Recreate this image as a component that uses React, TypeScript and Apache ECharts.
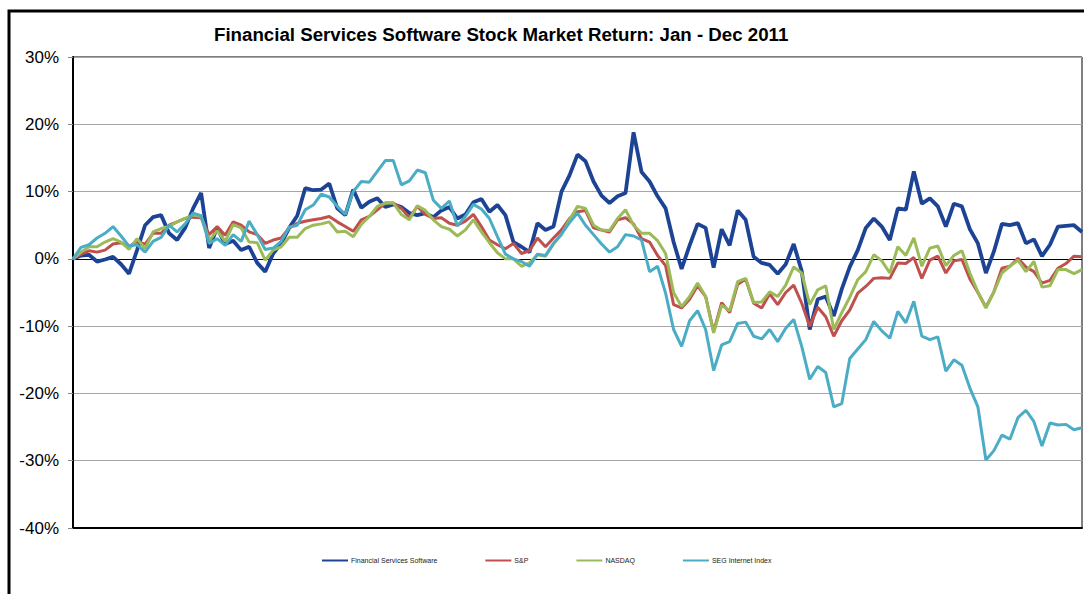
import React, { useEffect, useRef } from "react";
import * as echarts from "echarts";

const TITLE = "Financial Services Software Stock Market Return: Jan - Dec 2011";
const SERIES_NAMES = ["Financial Services Software", "S&P", "NASDAQ", "SEG Internet Index"];
const SERIES_COLORS = ["#1d4494", "#c0504d", "#9bbb59", "#4bacc6"];
const Y_MIN = -40;
const Y_MAX = 30;
const Y_STEP = 10;

// Cumulative return (%) sampled roughly every two trading days, Jan - Dec 2011
const FSS = [
  0.0, 0.5, 0.6, -0.4, -0.1, 0.3, -0.8, -2.2, 1.3, 5.0,
  6.2, 6.5, 3.8, 2.8, 4.6, 7.5, 9.8, 1.6, 4.6, 2.2,
  2.7, 1.3, 1.8, -0.6, -1.9, 0.8, 2.3, 4.6, 6.4, 10.5,
  10.2, 10.3, 11.2, 7.5, 6.5, 10.3, 7.6, 8.5, 9.0, 7.7,
  8.1, 7.7, 6.8, 6.5, 6.8, 6.2, 7.2, 7.7, 6.0, 6.6,
  8.4, 8.9, 7.0, 8.0, 6.5, 2.5, 1.8, 1.0, 5.3, 4.3,
  4.8, 10.0, 12.4, 15.5, 14.5, 11.5, 9.4, 8.3, 9.3, 9.8,
  18.8, 12.9, 11.5, 9.3, 7.5, 2.5, -1.5, 2.0, 5.2, 4.6,
  -1.3, 4.4, 2.0, 7.2, 5.8, 0.3, -0.6, -0.9, -2.2, -0.8,
  2.2, -1.8, -10.5, -6.0, -5.6, -8.5, -4.5, -1.2, 1.3, 4.6,
  6.0, 4.8, 2.8, 7.5, 7.3, 13.0, 8.2, 9.0, 7.8, 4.8,
  8.2, 7.8, 4.4, 2.3, -2.1, 1.1, 5.2, 5.0, 5.3, 2.3,
  2.9, 0.4, 2.1, 4.8, 4.9, 5.0, 4.0,
];

const SP = [
  0.0, 0.7, 1.2, 1.0, 1.3, 2.2, 2.4, 1.8, 2.6, 2.2,
  3.8, 3.8, 5.0, 5.5, 6.0, 6.2, 6.1, 3.6, 4.8, 3.5,
  5.5, 5.0, 4.0, 3.6, 2.3, 2.8, 3.1, 4.6, 5.3, 5.6,
  5.8, 6.0, 6.3, 5.5, 4.8, 4.1, 5.8, 6.3, 7.3, 8.3,
  8.3, 7.5, 6.1, 7.8, 6.6, 6.0, 6.1, 5.3, 5.0, 5.6,
  6.6, 4.8, 2.8, 2.1, 1.5, 2.3, 0.8, 1.2, 3.1, 1.8,
  3.1, 4.3, 6.0, 7.0, 7.2, 4.6, 4.3, 4.0, 5.8, 6.1,
  5.2, 3.0, 2.5, 0.5, -1.0, -6.8, -7.3, -6.0, -4.0, -5.6,
  -10.8, -6.5, -8.0, -3.8, -3.0, -6.6, -7.3, -5.2, -6.8, -5.0,
  -3.9, -6.6, -10.0, -7.2, -8.6, -11.5, -9.2, -7.6, -5.1, -4.1,
  -2.9, -2.8, -2.9, -0.6, -0.7, 0.2, -2.9, -0.2, 0.4, -2.1,
  -0.3, -0.1, -3.0, -5.0, -7.2, -4.9, -1.4, -1.1, 0.1, -1.2,
  -1.9, -3.6, -3.2, -1.4, -0.7, 0.4, 0.3,
];

const NASDAQ = [
  0.0, 1.0, 1.8, 1.8, 2.5, 3.0, 2.5, 1.4, 3.0, 1.5,
  4.0, 4.5, 4.8, 5.5, 6.0, 6.5, 6.3, 2.7, 4.2, 2.6,
  5.1, 4.6, 2.5, 2.4, -0.2, 1.3, 1.8, 3.2, 3.2, 4.5,
  5.0, 5.2, 5.5, 4.0, 4.1, 3.3, 5.1, 6.3, 7.8, 8.3,
  8.3, 6.6, 5.8, 7.9, 7.2, 5.8, 4.8, 4.4, 3.4, 4.3,
  5.8, 4.0, 2.4, 0.9, 0.0, 0.0, -1.1, -0.6, 0.6, 0.4,
  2.2, 3.6, 5.8, 7.8, 7.5, 5.0, 4.3, 4.2, 6.0, 7.3,
  5.0, 3.8, 3.8, 2.7, 0.8, -5.0, -7.1, -5.6, -3.6, -5.6,
  -11.0, -6.9, -7.7, -3.4, -2.9, -6.5, -6.4, -4.9, -5.6, -3.9,
  -1.2, -2.1, -6.8, -4.6, -4.0, -10.5, -8.0, -5.7, -3.1, -1.9,
  0.6, -0.3, -2.1, 1.8, 0.5, 3.1, -1.1, 1.6, 1.9, -1.0,
  0.5, 1.2, -2.1, -4.9, -7.3, -4.9, -2.1, -1.1, -0.2, -1.9,
  -0.4, -4.2, -4.0, -1.6, -1.6, -2.2, -1.6,
];

const SEG = [
  0.0, 1.7, 2.1, 3.1, 3.8, 4.8, 3.4, 1.9, 2.1, 1.0,
  2.6, 3.2, 5.0, 4.0, 5.2, 6.8, 6.4, 2.3, 3.0, 2.0,
  3.6, 2.6, 5.6, 3.6, 1.4, 1.6, 2.6, 4.7, 5.0, 7.3,
  8.0, 9.6, 9.2, 7.8, 6.6, 10.0, 11.5, 11.4, 13.0, 14.6,
  14.6, 11.0, 11.6, 13.2, 12.8, 8.7, 7.5, 8.6, 4.9, 6.3,
  8.1, 7.4, 6.0, 3.3, 0.7, 0.0, -0.4, -1.1, 0.7, 0.5,
  2.3, 3.7, 5.4, 6.8, 5.0, 3.6, 2.2, 1.0, 1.8, 3.6,
  3.4, 2.8, -1.9, -1.1, -5.1, -10.5, -13.0, -9.2, -7.7, -10.5,
  -16.6, -12.8, -12.3, -9.6, -9.4, -11.5, -11.9, -10.5, -12.3, -10.3,
  -9.0, -13.0, -17.9, -16.0, -16.9, -22.0, -21.5, -14.8, -13.4, -12.0,
  -9.3, -10.7, -11.8, -7.8, -9.5, -6.3, -11.5, -12.0, -11.6, -16.7,
  -15.0, -15.8, -19.2, -22.0, -29.9, -28.5, -26.2, -26.8, -23.6, -22.5,
  -24.2, -27.8, -24.4, -24.7, -24.6, -25.4, -25.1,
];

const SERIES_DATA = [FSS, SP, NASDAQ, SEG];
const SERIES_WIDTHS = [3.8, 3, 3, 3];
const DAYS = FSS.map((_, i) => String(i));

const FONT = 'Arial, "Liberation Sans", sans-serif';

export default function App() {
  const ref = useRef<HTMLDivElement>(null);

  useEffect(() => {
    if (!ref.current) return;
    const chart = echarts.init(ref.current, null, { renderer: "svg" });
    const gridColors = [];
    for (let v = Y_MIN; v <= Y_MAX; v += Y_STEP) {
      gridColors.push(v === 0 ? "#000000" : "#a6a6a6");
    }
    chart.setOption({
      animation: false,
      backgroundColor: "#ffffff",
      title: {
        text: TITLE,
        left: 214,
        top: 25,
        padding: 0,
        textStyle: { fontFamily: FONT, fontSize: 18.7, fontWeight: "bold", color: "#000" },
      },
      graphic: [
        {
          type: "rect",
          shape: { x: 9, y: 11, width: 1300, height: 800 },
          style: { fill: "none", stroke: "#000", lineWidth: 3 },
          silent: true,
        },
      ],
      legend: {
        left: 322,
        top: 557,
        itemWidth: 26,
        itemHeight: 2,
        itemGap: 48,
        icon: "rect",
        padding: 0,
        textStyle: { fontFamily: FONT, fontSize: 7, color: "#222", padding: [0, 0, 0, -2] },
        data: SERIES_NAMES,
      },
      grid: {
        left: 73,
        top: 57,
        right: 2,
        bottom: 66,
        show: true,
        borderColor: "#000",
        borderWidth: 1,
        containLabel: false,
      },
      xAxis: {
        type: "category",
        data: DAYS,
        boundaryGap: false,
        axisLine: { show: true, onZero: false, lineStyle: { color: "#000", width: 2 } },
        axisTick: { show: false },
        axisLabel: { show: false },
        splitLine: { show: false },
      },
      yAxis: {
        type: "value",
        min: Y_MIN,
        max: Y_MAX,
        interval: Y_STEP,
        axisLine: { show: true, lineStyle: { color: "#000", width: 2 } },
        axisTick: { show: true, length: 5, lineStyle: { color: "#888" } },
        axisLabel: {
          formatter: "{value}%",
          margin: 14,
          fontFamily: FONT,
          fontSize: 17,
          color: "#000",
        },
        splitLine: { show: true, lineStyle: { color: gridColors, width: 1 } },
      },
      series: SERIES_NAMES.map((name, k) => ({
        name,
        type: "line",
        data: SERIES_DATA[k],
        showSymbol: false,
        symbol: "none",
        color: SERIES_COLORS[k],
        lineStyle: { color: SERIES_COLORS[k], width: SERIES_WIDTHS[k] },
        emphasis: { disabled: true },
      })),
    });
    return () => chart.dispose();
  }, []);

  return (
    <div
      ref={ref}
      style={{ position: "fixed", left: 0, top: 0, width: 1084, height: 594, background: "#fff" }}
    />
  );
}
